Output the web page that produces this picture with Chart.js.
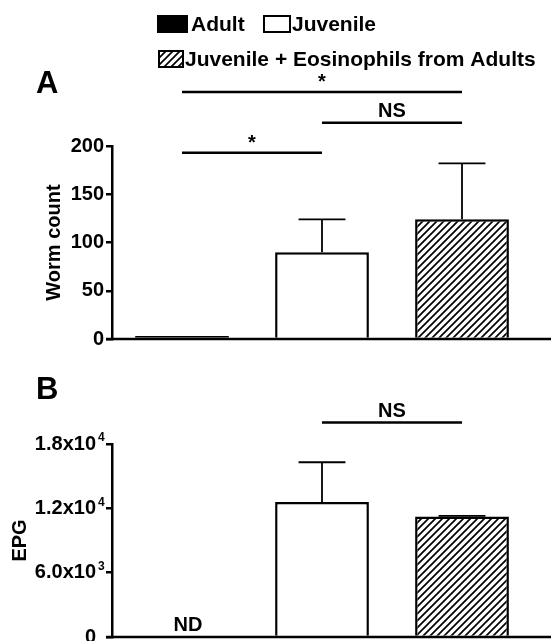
<!DOCTYPE html>
<html>
<head>
<meta charset="utf-8">
<script src="https://cdn.jsdelivr.net/npm/chart.js@4.4.0/dist/chart.umd.min.js"></script>
<style>
    html, body { margin: 0; padding: 0; background: #fff; overflow: hidden; }
    #wrap { position: relative; width: 551px; height: 641px; }
    .panel { position: absolute; left: 0; width: 551px; }
    #panelA { top: 0; height: 345px; }
    #panelB { top: 345px; height: 296px; }
</style>
</head>
<body>
<div id="wrap">
    <div class="panel" id="panelA"><canvas id="chartA"></canvas></div>
    <div class="panel" id="panelB"><canvas id="chartB"></canvas></div>
</div>
<script>
// data
const groups = ['Adult', 'Juvenile', 'Juvenile + Eosinophils from Adults'];
const wormMean = [3, 90, 124];
const wormSem = [0, 34, 58];
const epgMean = [null, 12600, 11250];
const epgSem = [0, 3700, 40];
const wormTicks = [0, 50, 100, 150, 200];
const epgTicks = [0, 6000, 12000, 18000];
const epgTickText = ['0', '6.0x10', '1.2x10', '1.8x10'];
const epgTickExp = ['', '3', '4', '4'];
// significance bars: from group, to group, height (data units), label
const wormSig = [
    { from: 0, to: 2, y: 256, text: '*' },
    { from: 1, to: 2, y: 224, text: 'NS' },
    { from: 0, to: 1, y: 193, text: '*' },
];
const epgSig = [{ from: 1, to: 2, y: 20000, text: 'NS' }];

const FONT = 'Arial, "Liberation Sans", sans-serif';

// hatch fill for the third group
const makeHatch = () => {
    const s = 7;
    const c = document.createElement('canvas');
    c.width = s; c.height = s;
    const g = c.getContext('2d');
    g.fillStyle = '#fff';
    g.fillRect(0, 0, s, s);
    g.strokeStyle = '#000';
    g.lineWidth = 1.7;
    g.beginPath();
    g.moveTo(-1, s + 1); g.lineTo(s + 1, -1);
    g.moveTo(-s / 2 - 1, s / 2 + 1); g.lineTo(s / 2 + 1, -s / 2 - 1);
    g.moveTo(s / 2 - 1, s * 1.5 + 1); g.lineTo(s * 1.5 + 1, s / 2 - 1);
    g.stroke();
    return g.createPattern(c, 'repeat');
};
const hatch = makeHatch();
const fills = ['#000', '#fff', hatch];

// extra drawing: baseline, error bars, significance bars, labels
const extras = {
    id: 'extras',
    afterDatasetsDraw(chart, args, opts) {
        const { ctx, chartArea, scales } = chart;
        const xs = scales.x, ys = scales.y;
        ctx.save();
        ctx.strokeStyle = '#000';
        ctx.fillStyle = '#000';

        // x baseline running to the edge
        ctx.lineWidth = 2.5;
        ctx.beginPath();
        ctx.moveTo(chartArea.left - 6, chartArea.bottom);
        ctx.lineTo(chart.width, chartArea.bottom);
        ctx.stroke();

        // error bars (upper only)
        const meta = chart.getDatasetMeta(0);
        ctx.lineWidth = 1.8;
        opts.mean.forEach((m, i) => {
            if (m == null || !opts.sem[i]) return;
            const bar = meta.data[i];
            const yTop = ys.getPixelForValue(m + opts.sem[i]);
            const half = bar.width / 4;
            ctx.beginPath();
            ctx.moveTo(bar.x, bar.y);
            ctx.lineTo(bar.x, yTop);
            ctx.moveTo(bar.x - half, yTop);
            ctx.lineTo(bar.x + half, yTop);
            ctx.stroke();
        });

        // significance bars
        ctx.textAlign = 'center';
        ctx.textBaseline = 'alphabetic';
        opts.sig.forEach((s) => {
            const x1 = xs.getPixelForValue(s.from);
            const x2 = xs.getPixelForValue(s.to);
            const y = ys.getPixelForValue(s.y);
            ctx.lineWidth = 2.5;
            ctx.beginPath();
            ctx.moveTo(x1, y);
            ctx.lineTo(x2, y);
            ctx.stroke();
            ctx.font = 'bold 20px ' + FONT;
            ctx.fillText(s.text, (x1 + x2) / 2, y - (s.text === '*' ? 4 : 6));
        });

        // panel letter
        ctx.textAlign = 'left';
        ctx.textBaseline = 'middle';
        ctx.font = 'bold 31px ' + FONT;
        ctx.fillText(opts.letter, opts.letterX, opts.letterY);

        // ND label
        if (opts.nd) {
            ctx.textAlign = 'center';
            ctx.textBaseline = 'alphabetic';
            ctx.font = 'bold 20px ' + FONT;
            ctx.fillText('ND', xs.getPixelForValue(0) + 6, chartArea.bottom - 6);
        }

        // exponents on tick labels
        if (opts.exps) {
            ctx.textAlign = 'left';
            ctx.textBaseline = 'middle';
            ctx.font = 'bold 12px ' + FONT;
            ys.ticks.forEach((t, i) => {
                const e = opts.exps[i];
                if (!e) return;
                ctx.fillText(e, chartArea.left - 14, ys.getPixelForValue(t.value) - 6);
            });
        }

        // legend
        if (opts.legend) {
            ctx.font = 'bold 21px ' + FONT;
            ctx.textAlign = 'left';
            ctx.textBaseline = 'middle';
            ctx.lineWidth = 2;
            const items = [
                { fill: fills[0], bx: 158, y: 24, bw: 29, tx: 191 },
                { fill: fills[1], bx: 264, y: 24, bw: 26, tx: 292 },
                { fill: fills[2], bx: 159, y: 59, bw: 24, tx: 185 },
            ];
            items.forEach((it, i) => {
                ctx.fillStyle = it.fill;
                ctx.fillRect(it.bx, it.y - 8, it.bw, 16);
                ctx.strokeRect(it.bx, it.y - 8, it.bw, 16);
                ctx.fillStyle = '#000';
                ctx.fillText(groups[i], it.tx, it.y + 1);
            });
        }
        ctx.restore();
    },
};

const makeChart = (id, mean, ticks, tickFmt, yMax, title, titlePad, pad, extraOpts) => {
    return new Chart(document.getElementById(id), {
        type: 'bar',
        data: {
            labels: groups,
            datasets: [{
                data: mean,
                backgroundColor: fills,
                borderColor: '#000',
                borderWidth: 2.5,
                barPercentage: 0.67,
                categoryPercentage: 1,
            }],
        },
        options: {
            responsive: true,
            maintainAspectRatio: false,
            animation: false,
            layout: { padding: pad },
            plugins: {
                legend: { display: false },
                tooltip: { enabled: false },
                extras: extraOpts,
            },
            scales: {
                x: { display: false },
                y: {
                    min: 0,
                    max: yMax,
                    afterBuildTicks: (s) => { s.ticks = ticks.map((v) => ({ value: v })); },
                    afterFit: (s) => {
                        s.width = 112;
                        s.paddingTop = 0;
                        s.paddingBottom = 0;
                    },
                    border: { display: true, color: '#000', width: 2.5 },
                    grid: {
                        drawOnChartArea: false,
                        drawTicks: true,
                        tickLength: 6,
                        color: '#000',
                        lineWidth: 2.5,
                    },
                    ticks: {
                        color: '#000',
                        padding: extraOpts.exps ? 10 : 2,
                        font: { family: FONT, size: 20, weight: 'bold' },
                        callback: tickFmt,
                    },
                    title: {
                        display: true,
                        text: title,
                        color: '#000',
                        font: { family: FONT, size: 20, weight: 'bold' },
                        padding: { top: titlePad, bottom: 0 },
                    },
                },
            },
        },
        plugins: [extras],
    });
};

makeChart('chartA', wormMean, wormTicks, (v) => String(v), 200, 'Worm count', 42,
    { top: 146, bottom: 6, left: 0, right: 19 },
    { mean: wormMean, sem: wormSem, sig: wormSig, letter: 'A', letterX: 36, letterY: 84, legend: true });

makeChart('chartB', epgMean, epgTicks, (v) => epgTickText[epgTicks.indexOf(v)], 18000, 'EPG', 8,
    { top: 99, bottom: 4, left: 0, right: 19 },
    { mean: epgMean, sem: epgSem, sig: epgSig, letter: 'B', letterX: 36, letterY: 45, nd: true, exps: epgTickExp });
</script>
</body>
</html>
